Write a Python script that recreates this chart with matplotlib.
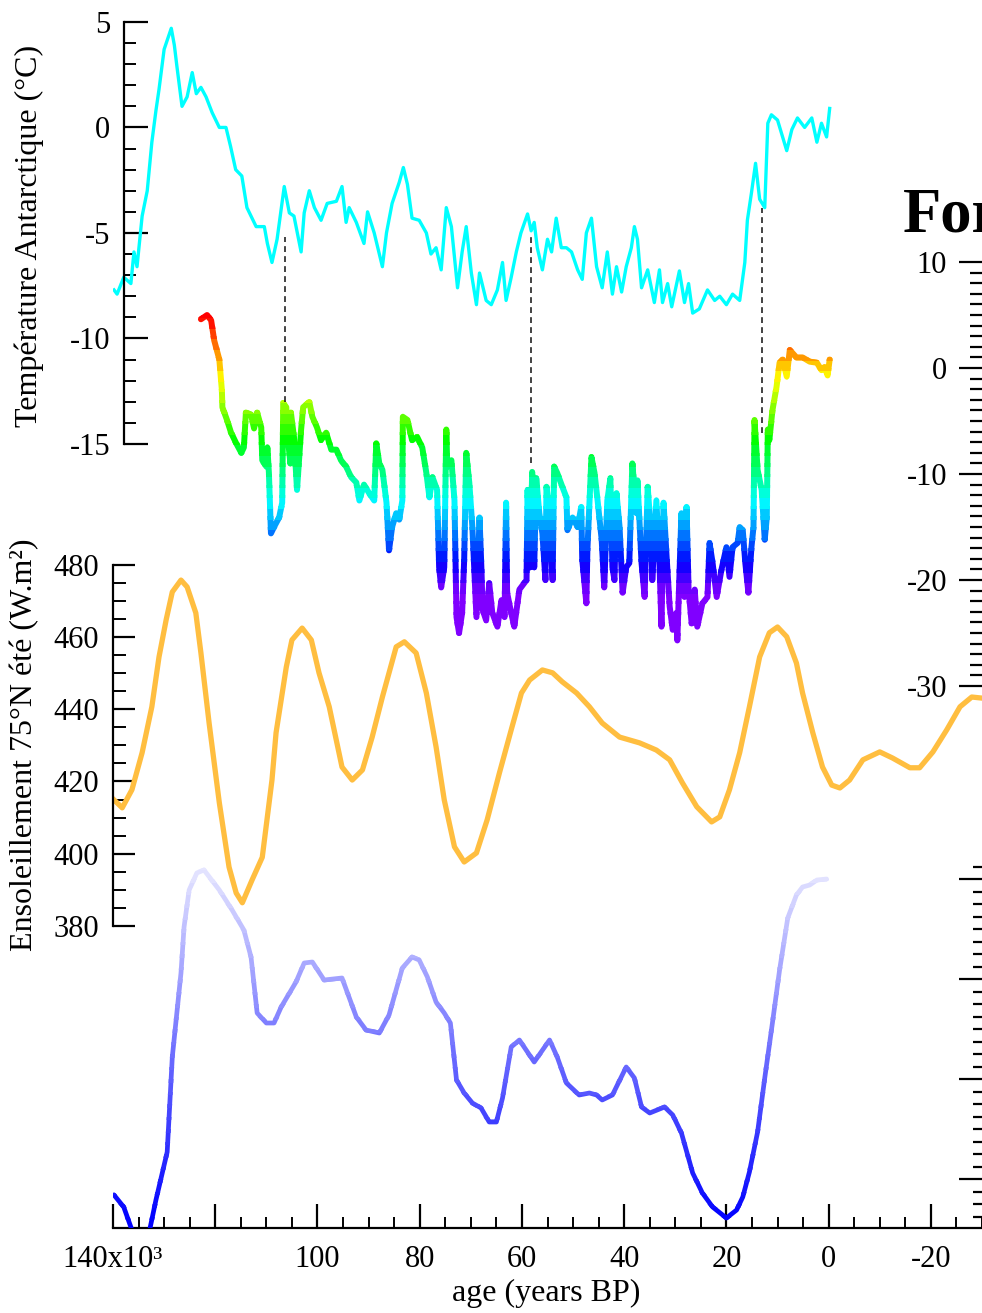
import numpy as np
import matplotlib
matplotlib.use("Agg")
import matplotlib.pyplot as plt
from matplotlib.colors import LinearSegmentedColormap, Normalize
from matplotlib.patches import Rectangle
from matplotlib.ticker import FixedLocator, FixedFormatter

plt.rcParams["font.family"] = ["Liberation Serif", "DejaVu Serif"]
plt.rcParams["axes.unicode_minus"] = False

# valeurs : colonnes (age en ka BP, valeur)
antarctique = np.array([
    (139.8, -7.7), (139.2, -7.9), (137.9, -7.1), (136.5, -7.4), (135.9, -5.9), (135.3, -6.6),
    (134.3, -4.2), (133.3, -3.0), (132.4, -0.7), (131.6, 0.8), (131.0, 1.8), (130.0, 3.7),
    (128.6, 4.7), (128.0, 3.9), (127.5, 2.9), (126.5, 1.0), (125.5, 1.45), (124.5, 2.6),
    (123.7, 1.6), (122.8, 1.9), (121.8, 1.45), (120.6, 0.7), (119.2, 0.0), (117.9, 0.0),
    (117.0, -0.9), (116.0, -2.0), (114.8, -2.3), (113.8, -3.8), (112.0, -4.7), (110.4, -4.7),
    (109.8, -5.5), (108.9, -6.4), (107.9, -5.3), (106.5, -2.8), (105.5, -4.05), (104.6, -4.2),
    (103.2, -5.9), (102.6, -4.05), (101.6, -3.0), (100.6, -3.8), (99.3, -4.4), (98.1, -3.6),
    (96.3, -3.5), (95.2, -2.8), (94.4, -4.5), (93.8, -3.8), (92.4, -4.5), (90.9, -5.5),
    (90.2, -4.0), (88.9, -5.0), (87.3, -6.6), (86.5, -5.0), (85.4, -3.6), (84.0, -2.6),
    (83.2, -1.9), (82.4, -2.7), (81.5, -4.3), (80.1, -4.4), (78.7, -5.0), (77.8, -6.0),
    (76.8, -5.7), (75.8, -6.75), (74.8, -3.8), (73.8, -4.7), (72.6, -7.6), (71.7, -5.9),
    (70.9, -4.7), (69.9, -6.9), (68.9, -8.4), (68.3, -6.9), (67.0, -8.2), (66.0, -8.4),
    (64.8, -7.7), (63.8, -6.4), (63.1, -8.2), (62.1, -7.1), (61.1, -5.9), (60.2, -5.0),
    (58.9, -4.1), (58.2, -4.9), (57.6, -4.5), (57.0, -5.7), (56.0, -6.75), (55.0, -5.3),
    (54.2, -5.9), (53.3, -4.3), (52.3, -5.7), (51.3, -5.7), (50.3, -5.9), (49.1, -6.75),
    (48.2, -7.2), (47.4, -5.0), (46.4, -4.3), (45.4, -6.6), (44.3, -7.6), (43.3, -5.9),
    (42.3, -7.9), (41.5, -6.6), (40.5, -7.8), (39.6, -6.6), (38.6, -5.7), (38.0, -4.7),
    (37.4, -5.3), (36.6, -7.6), (35.4, -6.75), (34.1, -8.3), (33.1, -6.75), (32.5, -8.3),
    (31.5, -7.4), (30.7, -8.5), (29.2, -6.8), (28.2, -8.3), (27.4, -7.4), (26.6, -8.8),
    (25.3, -8.6), (23.7, -7.7), (22.3, -8.2), (21.3, -8.0), (20.0, -8.4), (18.8, -7.9),
    (17.4, -8.2), (16.4, -6.4), (15.9, -4.4), (15.1, -3.1), (14.3, -1.7), (13.5, -3.4),
    (12.5, -3.8), (11.9, 0.2), (11.2, 0.6), (10.0, 0.35), (8.2, -1.1), (7.2, -0.1),
    (6.1, 0.45), (4.7, 0.0), (3.3, 0.45), (2.3, -0.7), (1.4, 0.2), (0.4, -0.45), (-0.2, 0.9),
])

groenland_age = [
    122.8, 121.6, 120.8, 120.2, 119.2, 118.7, 118.6, 117.7, 116.9, 115.9,
    114.9, 114.4, 114.0, 113.0, 112.4, 111.8, 111.0, 110.8, 110.0, 109.8,
    109.5, 109.1, 108.5, 107.5, 106.9, 106.7, 106.1, 105.9, 105.3, 105.2,
    104.6, 104.0, 103.2, 102.8, 101.6, 101.0, 100.1, 99.3, 98.3, 97.3,
    96.3, 95.4, 94.4, 93.4, 92.4, 91.8, 90.9, 89.9, 88.9, 88.5,
    87.9, 87.3, 86.5, 86.0, 85.4, 84.6, 84.0, 83.4, 83.3, 82.4,
    81.5, 80.5, 79.5, 78.7, 78.1, 77.5, 76.6, 76.2, 75.8, 75.2,
    74.8, 74.6, 73.8, 73.2, 72.8, 72.3, 71.7, 71.3, 70.9, 70.3,
    69.7, 68.9, 68.3, 67.9, 67.7, 67.0, 66.4, 65.8, 64.8, 64.0,
    63.4, 63.1, 62.9, 62.1, 61.5, 60.5, 59.1, 58.9, 58.4, 58.0,
    57.6, 57.2, 56.6, 56.0, 55.4, 55.2, 54.6, 54.2, 54.0, 53.7,
    53.1, 52.1, 51.3, 51.1, 50.1, 49.1, 48.4, 48.2, 47.4, 47.2,
    46.4, 45.8, 45.2, 44.4, 43.9, 43.3, 42.7, 42.3, 41.9, 41.5,
    40.9, 40.3, 39.6, 39.0, 38.4, 37.6, 37.4, 36.6, 36.0, 35.4,
    34.7, 34.5, 33.7, 33.1, 32.7, 32.3, 31.7, 31.1, 30.5, 29.8,
    29.6, 28.8, 28.2, 27.8, 27.4, 26.8, 26.2, 25.7, 24.7, 23.7,
    23.3, 22.7, 21.9, 21.0, 20.0, 19.4, 18.8, 17.8, 17.4, 16.8,
    16.3, 15.7, 15.1, 14.7, 14.5, 13.9, 13.1, 12.5, 12.1, 11.9,
    11.6, 11.0, 10.2, 9.6, 9.0, 8.2, 7.6, 6.3, 5.1, 3.7,
    2.3, 1.4, 0.8, 0.2, -0.2,
]
groenland_temp = [
    4.6, 5.0, 4.5, 2.6, 0.8, -2.1, -3.7, -4.9, -6.1, -7.1,
    -8.0, -7.5, -4.2, -4.4, -5.7, -4.2, -5.6, -8.7, -9.3, -7.5,
    -9.9, -15.6, -15.0, -14.1, -12.7, -3.3, -3.7, -6.1, -9.0, -4.2,
    -6.5, -11.5, -5.8, -3.7, -3.2, -4.6, -5.6, -6.8, -6.1, -7.7,
    -7.7, -8.7, -9.3, -10.3, -10.8, -12.5, -11.0, -11.8, -12.5, -7.1,
    -9.0, -9.6, -12.7, -17.2, -15.0, -13.7, -14.3, -12.5, -4.6, -4.9,
    -6.8, -6.5, -7.5, -9.9, -12.2, -10.3, -11.5, -18.8, -20.7, -18.8,
    -5.8, -9.3, -8.7, -12.5, -23.5, -25.0, -23.1, -18.1, -8.0, -10.8,
    -15.0, -23.5, -14.1, -19.3, -22.8, -23.8, -20.3, -23.1, -24.4, -21.9,
    -23.5, -12.7, -21.2, -23.1, -24.4, -20.9, -20.0, -11.5, -18.8, -9.8,
    -18.8, -10.4, -13.7, -15.6, -20.0, -11.2, -13.4, -18.1, -20.0, -9.3,
    -9.9, -11.2, -12.2, -15.3, -14.1, -15.0, -13.1, -18.1, -22.2, -17.2,
    -8.4, -9.9, -12.5, -16.2, -20.7, -12.5, -10.4, -18.8, -20.0, -11.8,
    -15.0, -21.2, -18.8, -18.4, -9.0, -13.7, -10.6, -18.4, -21.6, -11.2,
    -15.9, -20.0, -12.5, -18.4, -24.4, -12.7, -17.8, -22.5, -24.7, -23.1,
    -25.7, -13.7, -21.6, -13.1, -20.9, -24.1, -20.9, -24.4, -22.2, -21.6,
    -16.5, -18.4, -21.6, -19.1, -16.9, -19.7, -16.9, -16.5, -15.0, -15.3,
    -18.4, -21.2, -16.9, -15.0, -4.9, -9.6, -11.5, -16.2, -14.1, -5.8,
    -6.8, -4.0, -1.8, 0.5, 0.8, -0.8, 1.7, 1.0, 1.0, 0.6,
    0.5, -0.2, 0.1, -0.7, 0.8,
]

insolation = np.array([
    (139.8, 414.9), (138.2, 412.7), (136.3, 417.7), (134.3, 428.0), (132.4, 440.7),
    (131.0, 454.5), (129.6, 464.8), (128.4, 472.5), (126.7, 475.8), (125.5, 473.9),
    (123.8, 466.7), (122.8, 455.6), (121.2, 436.2), (119.2, 414.1), (117.3, 396.3),
    (115.9, 389.1), (114.7, 386.4), (112.8, 392.7), (110.8, 399.0), (108.9, 420.4),
    (108.1, 433.5), (106.1, 451.7), (105.0, 459.2), (103.0, 462.5), (101.2, 459.2),
    (99.7, 450.1), (97.7, 440.7), (95.2, 424.0), (93.2, 420.4), (91.2, 423.2),
    (89.3, 432.3), (87.3, 443.4), (84.6, 457.3), (83.0, 458.7), (80.7, 455.6),
    (78.7, 444.5), (76.8, 429.6), (75.2, 414.9), (73.2, 401.9), (71.3, 397.7),
    (68.9, 400.2), (66.8, 409.4), (64.4, 422.4), (62.1, 434.3), (60.1, 444.5),
    (58.5, 448.1), (56.0, 450.9), (54.0, 450.1), (52.1, 447.6), (49.3, 444.5),
    (46.8, 440.7), (44.3, 436.2), (40.9, 432.3), (37.0, 430.7), (35.0, 429.5),
    (33.7, 428.7), (31.1, 426.0), (28.6, 419.6), (25.8, 413.0), (22.9, 408.8),
    (21.3, 410.2), (19.4, 417.7), (17.4, 428.0), (15.5, 440.7), (13.5, 454.5),
    (11.6, 461.2), (10.0, 462.8), (8.2, 460.1), (6.3, 452.8), (5.1, 444.5),
    (3.1, 433.5), (1.2, 424.0), (-0.6, 419.0), (-2.2, 418.2), (-4.1, 420.4),
    (-6.7, 426.0), (-10.0, 428.2), (-12.5, 426.5), (-15.9, 423.8), (-17.8, 423.8),
    (-20.4, 428.2), (-23.1, 434.3), (-25.7, 440.7), (-28.0, 443.4), (-30.0, 443.1),
])

niveau_mer = np.array([
    (139.8, -126.4), (137.9, -131.2), (135.5, -145.0), (133.3, -145.0), (131.6, -128.4),
    (129.4, -109.2), (128.4, -71.2), (126.7, -37.6), (126.1, -19.2), (125.1, -4.4),
    (123.6, 2.4), (122.2, 3.6), (119.2, -4.4), (116.7, -12.4), (114.4, -20.4),
    (113.0, -31.2), (111.8, -53.6), (110.0, -57.6), (108.5, -57.6), (107.1, -51.2),
    (104.2, -41.2), (102.6, -33.6), (101.0, -33.2), (98.7, -40.4), (95.2, -39.6),
    (92.4, -55.2), (90.5, -60.4), (87.9, -61.6), (86.0, -54.4), (83.4, -35.6),
    (81.5, -31.2), (80.1, -32.4), (78.5, -39.2), (76.8, -49.2), (75.2, -53.6),
    (74.0, -57.6), (72.8, -80.4), (71.3, -85.6), (69.7, -89.6), (68.0, -91.6),
    (66.4, -97.2), (65.0, -97.2), (63.8, -87.6), (62.1, -67.2), (60.5, -64.4),
    (57.6, -73.2), (54.6, -64.4), (53.1, -71.2), (51.3, -81.6), (48.8, -86.4),
    (46.8, -85.6), (45.4, -86.4), (44.3, -88.4), (42.3, -86.4), (39.6, -75.2),
    (38.0, -79.6), (36.6, -91.2), (35.0, -93.6), (32.1, -91.2), (30.5, -94.4),
    (28.8, -101.6), (26.6, -117.6), (24.7, -125.6), (22.7, -131.2), (20.0, -135.6),
    (18.0, -132.4), (16.8, -127.2), (15.5, -117.2), (13.9, -101.2), (12.5, -79.6),
    (11.0, -57.6), (9.6, -36.4), (8.0, -15.6), (6.3, -6.4), (5.1, -3.2),
    (3.7, -2.4), (2.3, -0.4), (0.4, 0.0),
])

# liaisons pointillees Antarctique -> Groenland (en degC de l'axe Antarctique)
liaison_age = [106.3, 58.3, 13.0]
liaison_haut = [-5.2, -5.0, -3.8]
liaison_bas = [-13.0, -15.9, -14.5]

age_ticks = [140, 120, 100, 80, 60, 40, 20, 0, -20]
age_labels = ["140x10³", "", "100", "80", "60", "40", "20", "0", "-20"]

W, H = 982, 1313
fig = plt.figure(figsize=(W / 100, H / 100), dpi=100)
rect = [113 / W, 1 - 1228 / H, 869 / W, 1228 / H]
LW = 1.6

ax = fig.add_axes(rect)
ax.set_xlim(140, -30)
ax.set_ylim(296.3, 636.5)
ax.spines["top"].set_visible(False)
ax.spines["right"].set_visible(False)
ax.spines["left"].set_bounds(380, 480)
ax.spines["left"].set_linewidth(LW)
ax.spines["bottom"].set_linewidth(LW)
ax.xaxis.set_major_locator(FixedLocator(age_ticks))
ax.xaxis.set_major_formatter(FixedFormatter(age_labels))
ax.xaxis.set_minor_locator(FixedLocator(np.arange(-30, 141, 5)))
ax.tick_params(axis="x", which="major", direction="in", length=17, width=LW, pad=12, labelsize=22)
ax.tick_params(axis="x", which="minor", direction="in", length=8, width=1.4)
ax.yaxis.set_major_locator(FixedLocator([380, 400, 420, 440, 460, 480]))
ax.yaxis.set_minor_locator(FixedLocator(np.arange(380, 481, 5)))
ax.tick_params(axis="y", which="major", direction="in", length=16, width=LW, pad=10, labelsize=22)
ax.tick_params(axis="y", which="minor", direction="in", length=9, width=1.4)


def calque(ylim):
    a = fig.add_axes(rect, sharex=ax)
    a.patch.set_visible(False)
    for s in a.spines.values():
        s.set_visible(False)
        s.set_linewidth(LW)
    a.set_ylim(*ylim)
    a.tick_params(axis="x", which="both", bottom=False, labelbottom=False)
    return a


def ligne_bandes(a, x, y, cmap, norm, bornes, lw, recouvre):
    # la couleur suit la valeur : une copie de la courbe par bande horizontale,
    # chaque bande limitee au cadre et recouvrant un peu la suivante
    ybas = min(a.get_ylim())
    for lo, hi in zip(bornes[:-1], bornes[1:]):
        ln, = a.plot(x, y, color=cmap(norm((lo + hi) / 2)), lw=lw,
                     solid_capstyle="round", solid_joinstyle="round")
        b0 = max(lo - recouvre, ybas)
        if hi <= ybas:
            ln.remove()
            continue
        ln.set_clip_path(Rectangle((-30, b0), 170, hi - b0, transform=a.transData))


# ensoleillement 75N
ax.plot(insolation[:, 0], insolation[:, 1], color="#FFBE40", lw=3.8, solid_joinstyle="round")

# niveau marin (axe droit du bas, sans etiquettes)
ax_s = calque((-139.6, 351.6))
ax_s.yaxis.tick_right()
ax_s.spines["right"].set_visible(True)
ax_s.spines["right"].set_position(("axes", 1.003))
ax_s.spines["right"].set_bounds(-140, 5)
ax_s.yaxis.set_major_locator(FixedLocator([0, -40, -80, -120]))
ax_s.yaxis.set_minor_locator(FixedLocator(np.arange(-140, 6, 5)))
ax_s.tick_params(axis="y", which="major", direction="in", length=19, width=LW, labelright=False)
ax_s.tick_params(axis="y", which="minor", direction="in", length=9, width=1.6)
bleus = LinearSegmentedColormap.from_list("bleus", ["#0000FF", "#E6E6FF"])
ligne_bandes(ax_s, niveau_mer[:, 0], niveau_mer[:, 1], bleus, Normalize(-135, 5),
             np.arange(-160, 21, 5), 3.4, 1.5)

# Groenland (axe droit du haut)
ax_g = calque((-81.13, 34.72))
ax_g.spines["left"].set_visible(True)
ax_g.spines["left"].set_position(("axes", 1.003))
ax_g.spines["left"].set_bounds(-30, 10)
ax_g.yaxis.set_major_locator(FixedLocator([10, 0, -10, -20, -30]))
ax_g.yaxis.set_minor_locator(FixedLocator(np.arange(-30, 11, 1)))
ax_g.tick_params(axis="y", which="major", direction="out", length=19, width=LW, pad=8, labelsize=22)
ax_g.tick_params(axis="y", which="minor", direction="out", length=10.5, width=1.6)
arc = LinearSegmentedColormap.from_list(
    "arc", ["#8000FF", "#0000FF", "#0080FF", "#00FFFF", "#00FF80",
            "#00FF00", "#80FF00", "#FFFF00", "#FF8000", "#FF0000"])
ligne_bandes(ax_g, groenland_age, groenland_temp, arc, Normalize(-21, 5),
             np.arange(-40, 16, 1), 4.3, 0.3)

# Antarctique (axe gauche du haut)
ax_t = calque((-52.16, 6.04))
ax_t.spines["left"].set_visible(True)
ax_t.spines["left"].set_position(("axes", 0.0127))
ax_t.spines["left"].set_bounds(-15, 5)
ax_t.yaxis.set_major_locator(FixedLocator([5, 0, -5, -10, -15]))
ax_t.yaxis.set_minor_locator(FixedLocator(np.arange(-15, 6, 1)))
ax_t.tick_params(axis="y", which="major", direction="in", length=17, width=LW, pad=10, labelsize=22)
ax_t.tick_params(axis="y", which="minor", direction="in", length=8.5, width=1.4)
ax_t.plot(antarctique[:, 0], antarctique[:, 1], color="#00FFFF", lw=2.4)
ax_t.vlines(liaison_age, liaison_bas, liaison_haut, colors="#222222",
            linestyles=(0, (3.5, 2.5)), lw=1.2)

fig.text(29 / W, 1 - 236 / H, "Température Antarctique (°C)", rotation=90,
         ha="center", va="center", fontsize=23)
fig.text(25 / W, 1 - 745 / H, "Ensoleillement 75°N été (W.m²)", rotation=90,
         ha="center", va="center", fontsize=23)
fig.text(546 / W, 1 - 1293 / H, "age (years BP)", ha="center", va="center", fontsize=23)
fig.text(903 / W, 1 - 232 / H, "Forçages", ha="left", va="baseline",
         fontsize=45, fontweight="bold")

fig.savefig("out.png", dpi=100)
